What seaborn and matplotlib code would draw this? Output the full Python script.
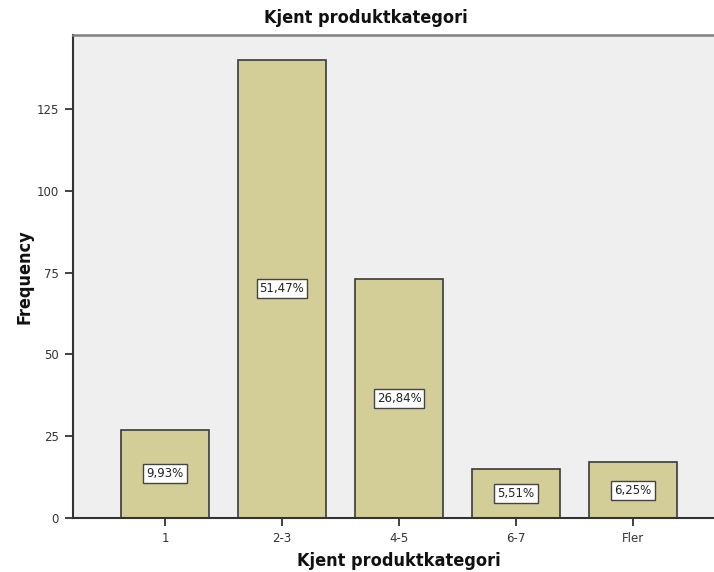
import matplotlib
matplotlib.use("Agg")
import matplotlib.pyplot as plt
import seaborn as sns
import pandas as pd

categories = ["1", "2-3", "4-5", "6-7", "Fler"]
counts = [27, 140, 73, 15, 17]
percent_labels = ["9,93%", "51,47%", "26,84%", "5,51%", "6,25%"]
y_ticks = [0, 25, 50, 75, 100, 125]

df = pd.DataFrame({"category": categories, "count": counts})

sns.set_theme(style="white")
plt.rcParams["font.family"] = ["DejaVu Sans"]

fig = plt.figure(figsize=(7.14, 5.72), dpi=100)
ax = fig.add_axes([73 / 714, 54 / 572, 652 / 714, 483 / 572])
ax.set_facecolor("#efefef")

sns.barplot(data=df, x="category", y="count", order=categories,
            color="#d3ce98", saturation=1, width=0.752,
            edgecolor="#3a3a3a", linewidth=1.2, ax=ax)

for i, (c, lab) in enumerate(zip(counts, percent_labels)):
    ax.text(i, c / 2, lab, ha="center", va="center", fontsize=8.5,
            color="#222222",
            bbox=dict(boxstyle="square,pad=0.25", facecolor="white",
                      edgecolor="#444444", linewidth=1.0))

ax.set_xlim(-0.786, 4.786)
ax.set_ylim(0, 147.6)
ax.set_yticks(y_ticks)
ax.set_yticklabels([str(t) for t in y_ticks])

for side in ["left", "bottom"]:
    ax.spines[side].set_color("#333333")
    ax.spines[side].set_linewidth(1.5)
ax.spines["top"].set_color("#808080")
ax.spines["top"].set_linewidth(1.8)
ax.spines["right"].set_visible(False)

ax.tick_params(axis="both", which="both", direction="out", length=6,
               width=1.3, color="#333333", labelsize=8.5,
               labelcolor="#333333", left=True, bottom=True, pad=4)

fig.text(366 / 714, 1 - 18 / 572, "Kjent produktkategori", ha="center",
         va="center", fontsize=13, fontweight="bold", fontstretch="condensed",
         color="#111111")
ax.set_xlabel("Kjent produktkategori", fontsize=13, fontweight="bold",
              fontstretch="condensed", color="#111111", labelpad=5)
ax.set_ylabel("Frequency", fontsize=13, fontweight="bold",
              fontstretch="condensed", color="#111111", labelpad=2)

fig.savefig("out.png", dpi=100)
